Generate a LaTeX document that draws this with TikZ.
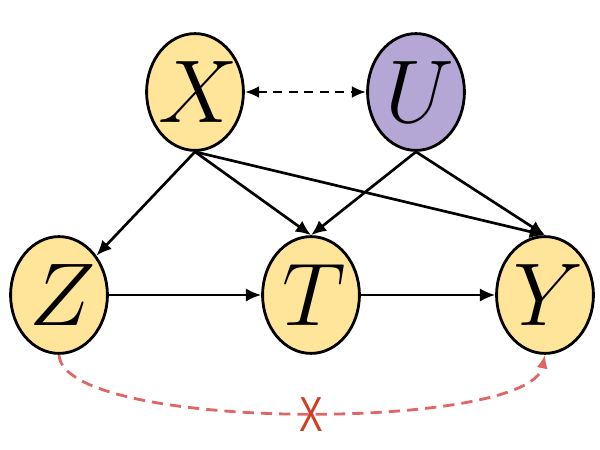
\documentclass[tikz,border=0pt]{standalone}
\usepackage{fontspec}
\newfontfamily\markfont{Liberation Sans}
\usetikzlibrary{arrows.meta,shapes.geometric}
\definecolor{varyellow}{HTML}{FFE599}
\definecolor{varpurple}{HTML}{B4A7D6}
\definecolor{linkred}{HTML}{E06666}
\definecolor{crossred}{HTML}{CC4125}
\newcommand{\varname}[1]{\makebox[0pt]{\hspace{5pt}\scalebox{2.55}{\(#1\)}}}
\begin{document}
\begin{tikzpicture}[
        var/.style={ellipse,draw=black,line width=2pt,fill=varyellow,minimum width=2.42cm,minimum height=2.92cm,inner sep=0pt,font=\Huge},
        edge/.style={line width=1.9pt,-{Latex[length=0.38cm,width=0.33cm]}},
        link/.style={line width=1.9pt,dashed,dash pattern=on 6.5pt off 4.5pt,{Latex[length=0.36cm,width=0.3cm]}-{Latex[length=0.36cm,width=0.3cm]}}
    ]
                \useasboundingbox (0,0) rectangle (15,11.25);
                \node[var] (X) at (4.875,8.95) {\varname{X}};
                \node[var,fill=varpurple] (U) at (10.4,8.95) {\varname{U}};
                \node[var] (Z) at (1.475,3.875) {\varname{Z}};
                \node[var] (T) at (7.775,3.875) {\varname{T}};
                \node[var] (Y) at (13.625,3.875) {\varname{Y}};
                \draw[link] (X) -- (U);
                \draw[edge] (X.south) -- (Z);
                \draw[edge] (X.south) -- (T.north);
                \draw[edge] (X.south) -- (Y.north);
                \draw[edge] (U.south) -- (T.north);
                \draw[edge] (U.south) -- (Y.north);
                \draw[edge] (Z) -- (T);
                \draw[edge] (T) -- (Y);
                \draw[line width=2pt,dashed,dash pattern=on 8pt off 5pt,linkred,-{Latex[length=0.34cm,width=0.28cm]}] (Z.south) .. controls +(0.1,-1.93) and +(-0.4,-1.93) .. (Y.south);
                \node[crossred,xscale=0.72,transform shape,font=\markfont\fontsize{35}{35}\selectfont,inner sep=0pt] (cross) at (7.775,0.875) {X};
            \end{tikzpicture}
\end{document}
